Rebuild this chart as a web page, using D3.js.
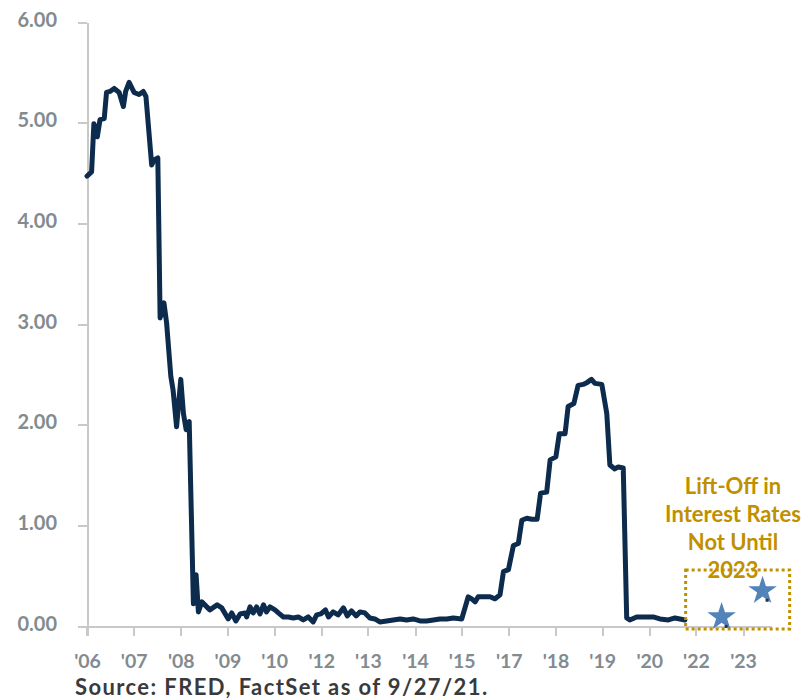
<!DOCTYPE html>
<html>
<head>
<meta charset="utf-8">
<script src="https://cdn.jsdelivr.net/npm/d3@7/dist/d3.min.js"></script>
<style>
  html, body { margin: 0; padding: 0; background: #ffffff; }
  svg { display: block; }
</style>
</head>
<body>
<svg id="chart" width="805" height="700"></svg>
<script>
// ---- Data ----
// Dates are decimal years, values in percent
const dates = [
  2006.10, 2006.22, 2006.28, 2006.37, 2006.44, 2006.55, 2006.61, 2006.70, 2006.81, 2006.94,
  2007.05, 2007.11, 2007.20, 2007.33, 2007.46, 2007.57, 2007.64, 2007.79, 2007.86, 2007.95,
  2008.01, 2008.11, 2008.18, 2008.29, 2008.35, 2008.44, 2008.55, 2008.62, 2008.69, 2008.77,
  2008.88, 2008.95, 2009.01, 2009.10, 2009.23, 2009.31, 2009.50, 2009.62, 2009.79, 2009.88,
  2009.99, 2010.10, 2010.23, 2010.27, 2010.36, 2010.44, 2010.53, 2010.62, 2010.71, 2010.79,
  2010.88, 2011.01, 2011.10, 2011.23, 2011.36, 2011.49, 2011.62, 2011.75, 2011.88, 2012.01,
  2012.10, 2012.21, 2012.33, 2012.41, 2012.53, 2012.66, 2012.80, 2012.90, 2013.01, 2013.13,
  2013.23, 2013.36, 2013.49, 2013.62, 2013.75, 2013.93, 2014.10, 2014.28, 2014.45, 2014.62,
  2014.80, 2014.97, 2015.15, 2015.32, 2015.50, 2015.67, 2015.89, 2016.06, 2016.15, 2016.24,
  2016.32, 2016.45, 2016.63, 2016.76, 2016.89, 2016.98, 2017.11, 2017.24, 2017.37, 2017.46,
  2017.59, 2017.72, 2017.86, 2017.95, 2018.11, 2018.20, 2018.35, 2018.44, 2018.59, 2018.67,
  2018.82, 2018.93, 2019.06, 2019.17, 2019.28, 2019.37, 2019.55, 2019.68, 2019.76, 2019.89,
  2019.98, 2020.11, 2020.20, 2020.28, 2020.46, 2020.63, 2020.89, 2021.07, 2021.29, 2021.46,
  2021.59, 2021.72
];
const rates = [
  4.47, 4.51, 4.99, 4.86, 5.03, 5.04, 5.30, 5.31, 5.34, 5.30,
  5.16, 5.31, 5.40, 5.30, 5.28, 5.31, 5.26, 4.58, 4.63, 4.65,
  3.06, 3.21, 3.01, 2.48, 2.34, 1.98, 2.45, 2.11, 1.95, 2.03,
  0.22, 0.51, 0.14, 0.24, 0.19, 0.16, 0.21, 0.18, 0.07, 0.13,
  0.05, 0.12, 0.13, 0.09, 0.19, 0.13, 0.19, 0.12, 0.21, 0.14,
  0.19, 0.16, 0.13, 0.09, 0.09, 0.08, 0.09, 0.06, 0.09, 0.04,
  0.11, 0.12, 0.16, 0.09, 0.14, 0.11, 0.18, 0.10, 0.15, 0.10,
  0.14, 0.13, 0.08, 0.07, 0.04, 0.05, 0.06, 0.07, 0.06, 0.07,
  0.05, 0.05, 0.06, 0.07, 0.07, 0.08, 0.07, 0.29, 0.27, 0.24,
  0.29, 0.29, 0.29, 0.27, 0.31, 0.54, 0.56, 0.80, 0.82, 1.05,
  1.07, 1.06, 1.06, 1.32, 1.33, 1.65, 1.68, 1.91, 1.91, 2.18,
  2.21, 2.39, 2.40, 2.42, 2.45, 2.41, 2.40, 2.11, 1.60, 1.56,
  1.58, 1.57, 0.08, 0.06, 0.09, 0.09, 0.09, 0.07, 0.06, 0.08,
  0.07, 0.06
];
// Projected points shown as stars
const starDates = [2022.68, 2023.75];
const starValues = [0.09, 0.35];

const xTickYears = [2006.10, 2007.32, 2008.55, 2009.77, 2010.99, 2012.22, 2013.44, 2014.67,
                    2015.89, 2017.12, 2018.34, 2019.56, 2020.79, 2022.01, 2023.24];
const xTickLabels = ["'06", "'07", "'08", "'09", "'10", "'12", "'13", "'14",
                     "'15", "'17", "'18", "'19", "'20", "'22", "'23"];
const yTickValues = [0, 1, 2, 3, 4, 5, 6];
const annotationLines = ["Lift-Off in", "Interest Rates", "Not Until", "2023"];
const sourceText = "Source: FRED, FactSet as of 9/27/21.";

// ---- Chart ----
const FONT = "Lato, 'Open Sans', sans-serif";
const AXIS_COLOR = "#c9c9c9";
const LABEL_COLOR = "#828b90";
const LINE_COLOR = "#0c2b4d";
const GOLD = "#bf9000";
const STAR_COLOR = "#5283b9";

const svg = d3.select("#chart");
const x = d3.scaleLinear().domain([2006.10, 2023.97]).range([87, 771]);
const y = d3.scaleLinear().domain([0, 6]).range([626, 22]);

// Y axis
const yAxis = svg.append("g")
  .attr("transform", `translate(${x.range()[0]},0)`)
  .call(d3.axisLeft(y).tickValues(yTickValues).tickFormat(d3.format(".2f"))
        .tickSize(9).tickSizeOuter(0).tickPadding(21));
yAxis.select(".domain").attr("stroke", AXIS_COLOR).attr("stroke-width", 2);
yAxis.selectAll(".tick line").attr("stroke", AXIS_COLOR).attr("stroke-width", 2);
yAxis.selectAll(".tick text")
  .attr("fill", LABEL_COLOR).attr("font-family", FONT).attr("font-size", 20)
  .attr("font-weight", 700).attr("dy", "0.2em");
// extension of y axis line below baseline
svg.append("line")
  .attr("x1", x.range()[0]).attr("x2", x.range()[0])
  .attr("y1", y(0)).attr("y2", y(0) + 10)
  .attr("stroke", AXIS_COLOR).attr("stroke-width", 2);

// X axis
const xAxis = svg.append("g")
  .attr("transform", `translate(0,${y(0)})`)
  .call(d3.axisBottom(x).tickValues(xTickYears).tickFormat((d, i) => xTickLabels[i])
        .tickSize(10).tickSizeOuter(0).tickPadding(18.5));
xAxis.select(".domain").attr("stroke", AXIS_COLOR).attr("stroke-width", 2);
xAxis.selectAll(".tick line").attr("stroke", AXIS_COLOR).attr("stroke-width", 2);
xAxis.selectAll(".tick text")
  .attr("fill", LABEL_COLOR).attr("font-family", FONT).attr("font-size", 19.5)
  .attr("font-weight", 700);
svg.selectAll(".domain, .tick line").attr("shape-rendering", "crispEdges");

// Line
const series = dates.map((d, i) => ({ t: d, v: rates[i] }));
svg.append("path")
  .datum(series)
  .attr("fill", "none")
  .attr("stroke", LINE_COLOR)
  .attr("stroke-width", 5)
  .attr("stroke-linejoin", "round")
  .attr("stroke-linecap", "round")
  .attr("d", d3.line().x(d => x(d.t)).y(d => y(d.v)));

// Annotation box (dotted)
const boxLeft = x(2021.74), boxRight = boxLeft + 104;
const boxTop = y(0) - 56, boxBottom = y(0) + 3;
svg.append("rect")
  .attr("x", boxLeft).attr("y", boxTop)
  .attr("width", boxRight - boxLeft).attr("height", boxBottom - boxTop)
  .attr("fill", "none").attr("stroke", GOLD).attr("stroke-width", 3)
  .attr("stroke-dasharray", "3,3");

// Stars
const stars = starDates.map((d, i) => ({ t: d, v: starValues[i] }));
const starR = 15;
const star = d3.symbol().type(d3.symbolStar).size(starR * starR / 0.8908130915292852);
svg.append("g").selectAll("path").data(stars).join("path")
  .attr("transform", d => `translate(${x(d.t)},${y(d.v)})`)
  .attr("d", star)
  .attr("fill", STAR_COLOR);
svg.append("g").selectAll("rect").data(stars).join("rect")
  .attr("x", d => x(d.t) + 3).attr("y", d => y(d.v) + 8)
  .attr("width", 3).attr("height", 3).attr("fill", "#2a3440");

// Annotation text
const annX = 733;
svg.append("text")
  .attr("text-anchor", "middle")
  .attr("font-family", FONT).attr("font-size", 22).attr("font-weight", 700)
  .attr("fill", GOLD)
  .selectAll("tspan").data(annotationLines).join("tspan")
  .attr("x", annX)
  .attr("y", (d, i) => 494 + i * 28)
  .text(d => d);

// Source
svg.append("text")
  .attr("x", 75).attr("y", 695)
  .attr("font-family", FONT).attr("font-size", 22).attr("font-weight", 700)
  .attr("letter-spacing", 1.4)
  .attr("fill", "#3a3a3a")
  .text(sourceText);
</script>
</body>
</html>
